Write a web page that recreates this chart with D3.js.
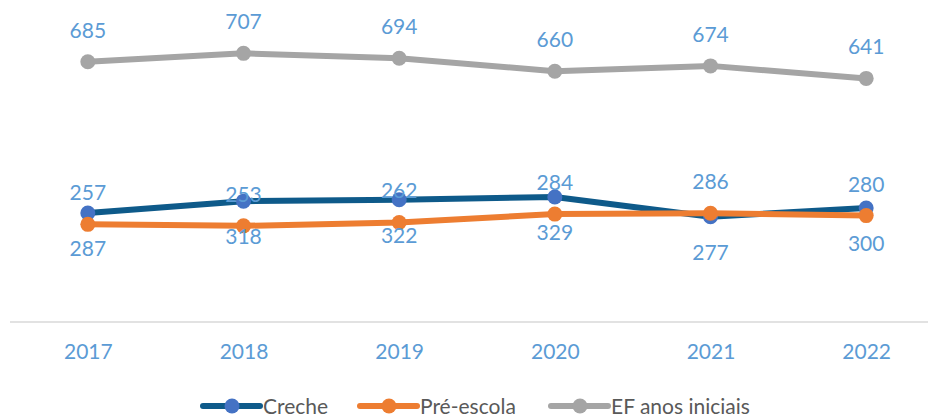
<!DOCTYPE html>
<html>
<head>
<meta charset="utf-8">
<script src="https://cdn.jsdelivr.net/npm/d3@7"></script>
<style>
  html, body { margin: 0; padding: 0; background: #fff; }
  svg { display: block; font-family: Lato, "Open Sans", sans-serif; }
</style>
</head>
<body>
<svg id="chart" width="928" height="419"></svg>
<script>
// values
const years = ["2017", "2018", "2019", "2020", "2021", "2022"];
const creche = [287, 318, 322, 329, 277, 300];
const preEscola = [257, 253, 262, 284, 286, 280];
const efAnosIniciais = [685, 707, 694, 660, 674, 641];

const seriesNames = ["Creche", "Pré-escola", "EF anos iniciais"];

const svg = d3.select("#chart");

const x = d3.scalePoint().domain(years).range([10, 944]).padding(0.5);
const y = d3.scaleLinear().domain([0, 800]).range([322, 18]);

const series = [
  { name: seriesNames[0], values: creche, line: "#0E5A8A", dot: "#4472C4", labelPos: "below" },
  { name: seriesNames[1], values: preEscola, line: "#ED7D31", dot: "#ED7D31", labelPos: "above" },
  { name: seriesNames[2], values: efAnosIniciais, line: "#A5A5A5", dot: "#A5A5A5", labelPos: "above" },
];

// baseline axis
const xAxis = svg.append("g")
  .attr("transform", `translate(0,${y(0)})`)
  .call(d3.axisBottom(x).tickSize(0).tickPadding(22));
xAxis.select(".domain").attr("stroke", "#D9D9D9").attr("stroke-width", 1.5)
  .attr("d", "M10,0H944");
xAxis.selectAll("text")
  .attr("fill", "#5B9BD5")
  .attr("font-size", 21)
  .attr("font-family", "Lato, sans-serif");

const line = d3.line()
  .x((d, i) => x(years[i]))
  .y((d) => y(d));

const plot = svg.append("g");

// grey first, then blue, orange on top (as in the picture)
const order = [series[2], series[0], series[1]];
order.forEach((s) => {
  const g = plot.append("g");
  g.append("path")
    .datum(s.values)
    .attr("fill", "none")
    .attr("stroke", s.line)
    .attr("stroke-width", 6)
    .attr("stroke-linejoin", "round")
    .attr("d", line);
  g.selectAll("circle")
    .data(s.values)
    .join("circle")
    .attr("cx", (d, i) => x(years[i]))
    .attr("cy", (d) => y(d))
    .attr("r", 7.5)
    .attr("fill", s.dot);
});

// data labels
series.forEach((s) => {
  plot.append("g")
    .selectAll("text")
    .data(s.values)
    .join("text")
    .attr("x", (d, i) => x(years[i]))
    .attr("y", (d) => (s.labelPos === "above" ? y(d) - 24 : y(d) + 43))
    .attr("text-anchor", "middle")
    .attr("fill", "#5B9BD5")
    .attr("font-size", 21)
    .text((d) => d);
});

// legend
const legendX = [203, 360, 551];
const legend = svg.append("g").attr("transform", "translate(0,406)");
series.forEach((s, i) => {
  const g = legend.append("g").attr("transform", `translate(${legendX[i]},0)`);
  g.append("line")
    .attr("x1", 0).attr("x2", 57)
    .attr("stroke", s.line)
    .attr("stroke-width", 6)
    .attr("stroke-linecap", "round");
  g.append("circle").attr("cx", 29).attr("r", 7.5).attr("fill", s.dot);
  g.append("text")
    .attr("x", 60)
    .attr("y", 7.5)
    .attr("fill", "#595959")
    .attr("font-size", 21)
    .text(s.name);
});
</script>
</body>
</html>
